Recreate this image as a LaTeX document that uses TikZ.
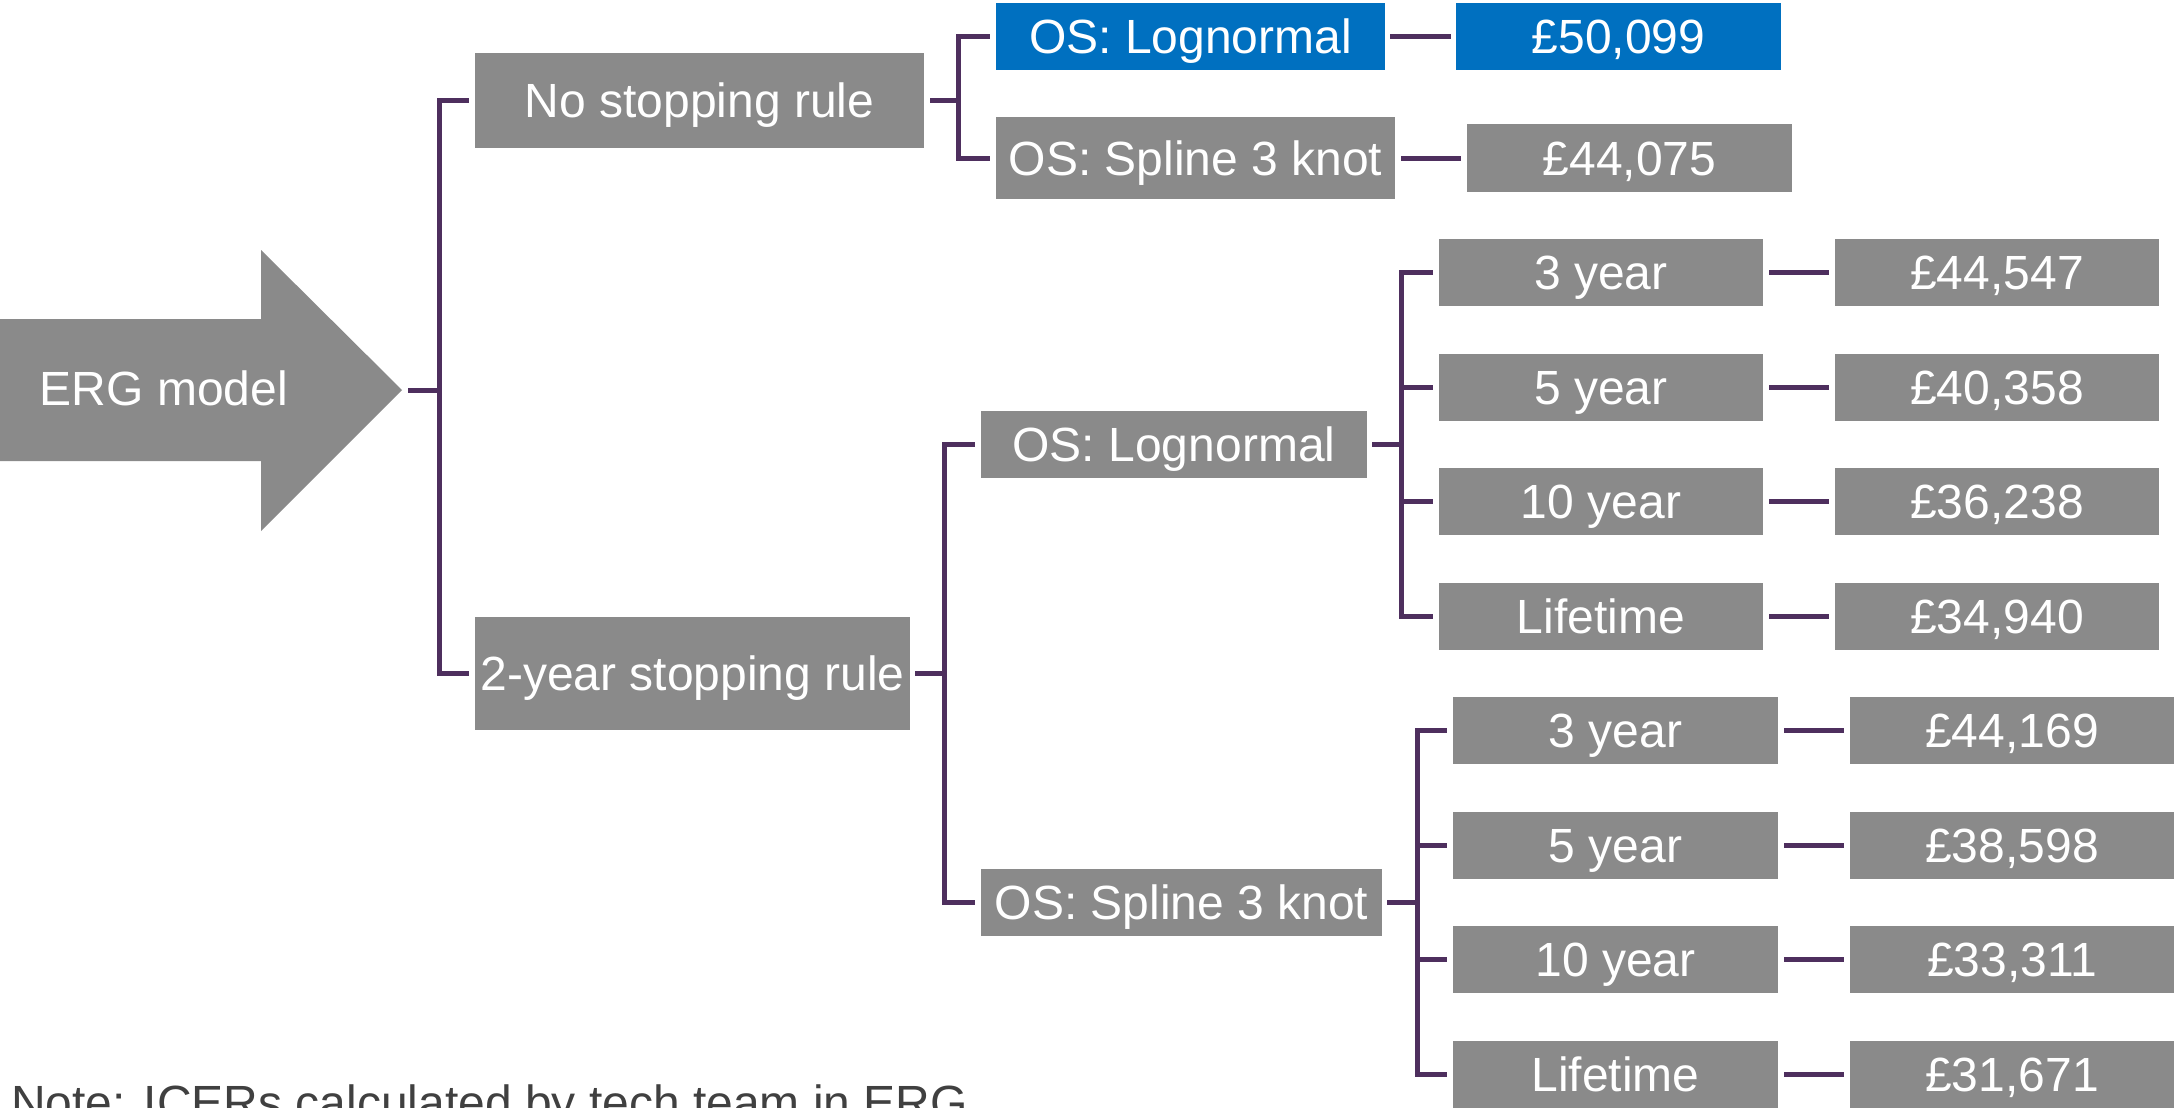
\documentclass[tikz,border=0pt]{standalone}
\usepackage{fontspec}
\setmainfont{Liberation Sans}
\usetikzlibrary{positioning}

\definecolor{boxgray}{HTML}{8A8A8A}
\definecolor{boxblue}{HTML}{0070C0}
\definecolor{linkpurple}{HTML}{4E2F5E}
\definecolor{notegray}{HTML}{404040}

\tikzset{
  box/.style={fill=boxgray, text=white, inner sep=0pt, minimum height=67pt,
    font=\fontsize{48}{58}\selectfont, text height=34pt, text depth=0pt},
  bluebox/.style={box, fill=boxblue},
  link/.style={draw=linkpurple, line width=5pt},
}

\begin{document}
\begin{tikzpicture}[x=1pt,y=-1pt]
\useasboundingbox (0,0) rectangle (2174,1108);

%Shape: Arrow
\fill[boxgray] (0,319) -- (261,319) -- (261,250) -- (402,390) -- (261,531) -- (261,461) -- (0,461) -- cycle;
\coordinate (ergtip) at (402,390);
% Text Node
\node[box, fill=none] (erg) at (164,388) {ERG model};

%Trunks
\coordinate (mtrunk) at (439,0);
\coordinate (notrunk) at (958,0);
\coordinate (twotrunk) at (944,0);
\coordinate (logtrunk) at (1401,0);
\coordinate (spltrunk) at (1417,0);

% Text Node
\node[box, minimum width=449pt, minimum height=95pt] (nostop) at (699.5,100.5) {No stopping rule};
\node[box, minimum width=435pt, minimum height=113pt] (twoyr) at (692.5,673.5) {2-year stopping rule};

% Text Node
\node[bluebox, minimum width=389pt] (noLog) at (1190.5,36.5) {OS: Lognormal};
\node[bluebox, minimum width=325pt] (noLogIcer) at (1618.5,36.5) {£50,099};
\node[box, minimum width=399pt, minimum height=82pt] (noSpl) at (1195.5,158) {OS: Spline 3 knot};
\node[box, minimum width=325pt, minimum height=68pt] (noSplIcer) at (1629.5,158) {£44,075};

% Text Node
\node[box, minimum width=386pt] (twoLog) at (1174,444.5) {OS: Lognormal};
\node[box, minimum width=401pt] (twoSpl) at (1181.5,902.5) {OS: Spline 3 knot};

% Text Node
\node[box, minimum width=324pt] (logA) at (1601,272.5) {3 year};
\node[box, minimum width=324pt] (logB) at (1601,387) {5 year};
\node[box, minimum width=324pt] (logC) at (1601,501) {10 year};
\node[box, minimum width=324pt] (logD) at (1601,616) {Lifetime};
\node[box, minimum width=324pt] (logAIcer) at (1997,272.5) {£44,547};
\node[box, minimum width=324pt] (logBIcer) at (1997,387) {£40,358};
\node[box, minimum width=324pt] (logCIcer) at (1997,501) {£36,238};
\node[box, minimum width=324pt] (logDIcer) at (1997,616) {£34,940};

% Text Node
\node[box, minimum width=325pt] (splA) at (1615.5,730.5) {3 year};
\node[box, minimum width=325pt] (splB) at (1615.5,845) {5 year};
\node[box, minimum width=325pt] (splC) at (1615.5,959.5) {10 year};
\node[box, minimum width=325pt] (splD) at (1615.5,1074) {Lifetime};
\node[box, minimum width=324pt] (splAIcer) at (2012,730.5) {£44,169};
\node[box, minimum width=324pt] (splBIcer) at (2012,845) {£38,598};
\node[box, minimum width=324pt] (splCIcer) at (2012,959.5) {£33,311};
\node[box, minimum width=324pt] (splDIcer) at (2012,1074) {£31,671};

% Text Node
\node[anchor=base west, inner sep=0pt, text=notegray, font=\fontsize{48}{58}\selectfont] (note) at (11,1119) {Note: ICERs calculated by tech team in ERG};

%Straight Lines
\draw[link, shorten <=6pt] (ergtip) -- (ergtip -| mtrunk);
\draw[link, shorten <=6pt, shorten >=6pt] (nostop.west) -- (nostop.west -| mtrunk) -- (twoyr.west -| mtrunk) -- (twoyr.west);

%Straight Lines
\draw[link, shorten <=6pt] (nostop.east) -- (nostop.east -| notrunk);
\draw[link, shorten <=6pt, shorten >=6pt] (noLog.west) -- (noLog.west -| notrunk) -- (noSpl.west -| notrunk) -- (noSpl.west);
\draw[link, shorten <=5pt, shorten >=5pt] (noLog) -- (noLogIcer);
\draw[link, shorten <=6pt, shorten >=6pt] (noSpl) -- (noSplIcer);

%Straight Lines
\draw[link, shorten <=5pt] (twoyr.east) -- (twoyr.east -| twotrunk);
\draw[link, shorten <=6pt, shorten >=6pt] (twoLog.west) -- (twoLog.west -| twotrunk) -- (twoSpl.west -| twotrunk) -- (twoSpl.west);

%Straight Lines
\draw[link, shorten <=5pt] (twoLog.east) -- (twoLog.east -| logtrunk);
\draw[link, shorten <=6pt, shorten >=6pt] (logA.west) -- (logA.west -| logtrunk) -- (logD.west -| logtrunk) -- (logD.west);
\draw[link, shorten >=6pt] (logB.west -| logtrunk) -- (logB.west);
\draw[link, shorten >=6pt] (logC.west -| logtrunk) -- (logC.west);
\draw[link, shorten <=6pt, shorten >=6pt] (logA) -- (logAIcer);
\draw[link, shorten <=6pt, shorten >=6pt] (logB) -- (logBIcer);
\draw[link, shorten <=6pt, shorten >=6pt] (logC) -- (logCIcer);
\draw[link, shorten <=6pt, shorten >=6pt] (logD) -- (logDIcer);

%Straight Lines
\draw[link, shorten <=5pt] (twoSpl.east) -- (twoSpl.east -| spltrunk);
\draw[link, shorten <=6pt, shorten >=6pt] (splA.west) -- (splA.west -| spltrunk) -- (splD.west -| spltrunk) -- (splD.west);
\draw[link, shorten >=6pt] (splB.west -| spltrunk) -- (splB.west);
\draw[link, shorten >=6pt] (splC.west -| spltrunk) -- (splC.west);
\draw[link, shorten <=6pt, shorten >=6pt] (splA) -- (splAIcer);
\draw[link, shorten <=6pt, shorten >=6pt] (splB) -- (splBIcer);
\draw[link, shorten <=6pt, shorten >=6pt] (splC) -- (splCIcer);
\draw[link, shorten <=6pt, shorten >=6pt] (splD) -- (splDIcer);

\end{tikzpicture}
\end{document}
